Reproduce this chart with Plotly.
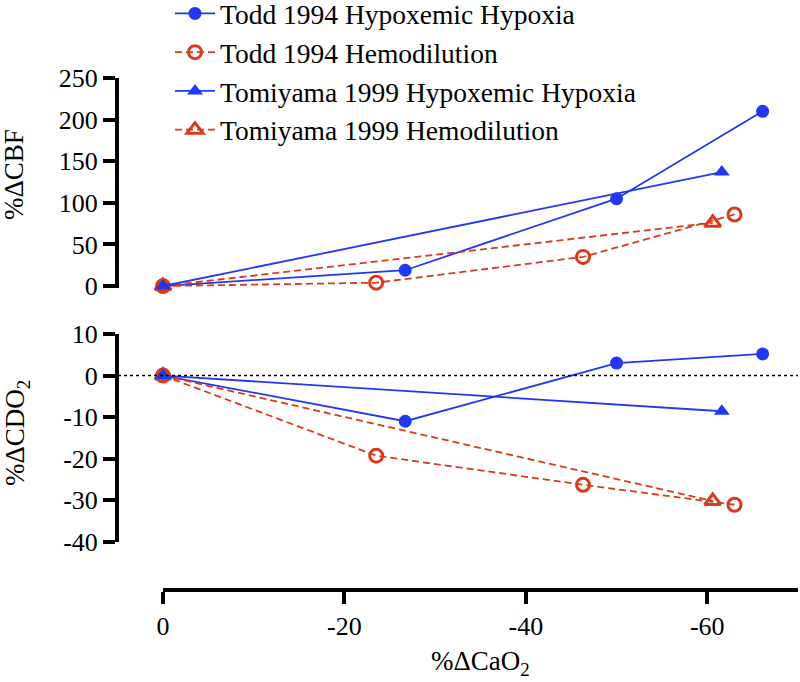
import plotly.graph_objects as go

# ---- data ----
todd_hyp_x = [0, -26.7, -50.0, -66.1]
todd_hyp_cbf = [0, 19, 105, 210]
todd_hyp_cdo2 = [0, -11.0, 3.0, 5.2]

todd_hemo_x = [0, -23.5, -46.3, -63.0]
todd_hemo_cbf = [0, 4, 35, 86]
todd_hemo_cdo2 = [0, -19.3, -26.3, -31.1]

tomi_hyp_x = [0, -61.6]
tomi_hyp_cbf = [0, 137]
tomi_hyp_cdo2 = [0, -8.6]

tomi_hemo_x = [0, -60.6]
tomi_hemo_cbf = [0, 76]
tomi_hemo_cdo2 = [0, -30.2]

x_ticks = [0, -20, -40, -60]
x_labels = ["0", "-20", "-40", "-60"]
cbf_ticks = [0, 50, 100, 150, 200, 250]
cbf_labels = ["0", "50", "100", "150", "200", "250"]
cdo2_ticks = [-40, -30, -20, -10, 0, 10]
cdo2_labels = ["-40", "-30", "-20", "-10", "0", "10"]

BLUE = "#2238F0"
RED = "#DA3A1C"
FONT = "Liberation Serif"

W, H = 800, 682
OFF = 0  # body margin removed below via post_script

series = [
    # name, x, cbf, cdo2, color, symbol, dash, rank
    ("Todd 1994 Hypoxemic Hypoxia", todd_hyp_x, todd_hyp_cbf, todd_hyp_cdo2, BLUE, "circle", "solid", 1),
    ("Todd 1994 Hemodilution", todd_hemo_x, todd_hemo_cbf, todd_hemo_cdo2, RED, "circle-open", "7px,4px", 2),
    ("Tomiyama 1999 Hemodilution", tomi_hemo_x, tomi_hemo_cbf, tomi_hemo_cdo2, RED, "triangle-up-open", "7px,4px", 4),
    ("Tomiyama 1999 Hypoxemic Hypoxia", tomi_hyp_x, tomi_hyp_cbf, tomi_hyp_cdo2, BLUE, "triangle-up", "solid", 3),
]

fig = go.Figure()
for name, xs, cbf, cdo2, col, sym, dash, rank in series:
    open_ = sym.endswith("open")
    msize = 13 if sym.startswith("circle") else 14
    marker = dict(symbol=sym, size=msize, color=col,
                  line=dict(color=col, width=3 if open_ else 0))
    for ys, yax, show in ((cbf, "y", True), (cdo2, "y2", False)):
        fig.add_trace(go.Scatter(
            x=xs, y=ys, yaxis=yax, xaxis="x", name=name,
            mode="lines+markers", legendgroup=name, legendrank=rank,
            showlegend=show, cliponaxis=False,
            line=dict(color=col, width=1.8, dash=dash),
            marker=marker,
        ))

def px_x(p):
    return (p - OFF) / W

def px_y(p):
    return (H - (p - OFF)) / H

def ydom(top_px, bot_px):
    return [px_y(bot_px), px_y(top_px)]

axis_common = dict(
    showline=True, linecolor="black", linewidth=4,
    ticks="outside", ticklen=12, tickwidth=4, tickcolor="black",
    showgrid=False, zeroline=False, automargin=False,
    tickfont=dict(family=FONT, size=26, color="black"),
)

fig.update_layout(
    width=W, height=H,
    margin=dict(l=0, r=0, t=0, b=0, pad=0, autoexpand=False),
    paper_bgcolor="white", plot_bgcolor="white",
    xaxis=dict(domain=[px_x(163), px_x(798)], range=[0, -70], tickvals=x_ticks,
               ticktext=x_labels, anchor="free", position=px_y(590),
               **axis_common),
    yaxis=dict(domain=ydom(78, 287.7), range=[-2, 250], tickvals=cbf_ticks,
               ticktext=cbf_labels, anchor="free", position=px_x(117),
               **axis_common),
    yaxis2=dict(domain=ydom(334, 541.7), range=[-40, 10], tickvals=cdo2_ticks,
                ticktext=cdo2_labels, anchor="free", position=px_x(117),
                **axis_common),
    legend=dict(x=px_x(170), y=px_y(-11), xanchor="left", yanchor="top",
                font=dict(family=FONT, size=27.5, color="black"),
                tracegroupgap=0, itemwidth=40, bgcolor="rgba(0,0,0,0)"),
    font=dict(family=FONT, color="black"),
)

fig.add_shape(type="line", xref="paper", yref="y2", x0=px_x(112), x1=px_x(798),
              y0=0, y1=0, line=dict(color="black", width=1.5, dash="dot"))

title_font = dict(family=FONT, size=27, color="black")
fig.add_annotation(text="%ΔCBF", xref="paper", yref="paper", x=px_x(14),
                   y=px_y(175), textangle=-90, showarrow=False, height=26,
                   xanchor="center", yanchor="middle", font=title_font)
fig.add_annotation(text="%ΔCDO<sub>2</sub>", xref="paper", yref="paper", x=px_x(17),
                   y=px_y(433), textangle=-90, showarrow=False, height=32,
                   xanchor="center", yanchor="middle", font=title_font)
fig.add_annotation(text="%ΔCaO<sub>2</sub>", xref="paper", yref="paper", x=px_x(481),
                   y=px_y(663), showarrow=False,
                   xanchor="center", yanchor="middle", font=title_font)

fig.write_html("out.html",
               config={"displayModeBar": False},
               post_script="document.body.style.margin='0';")
